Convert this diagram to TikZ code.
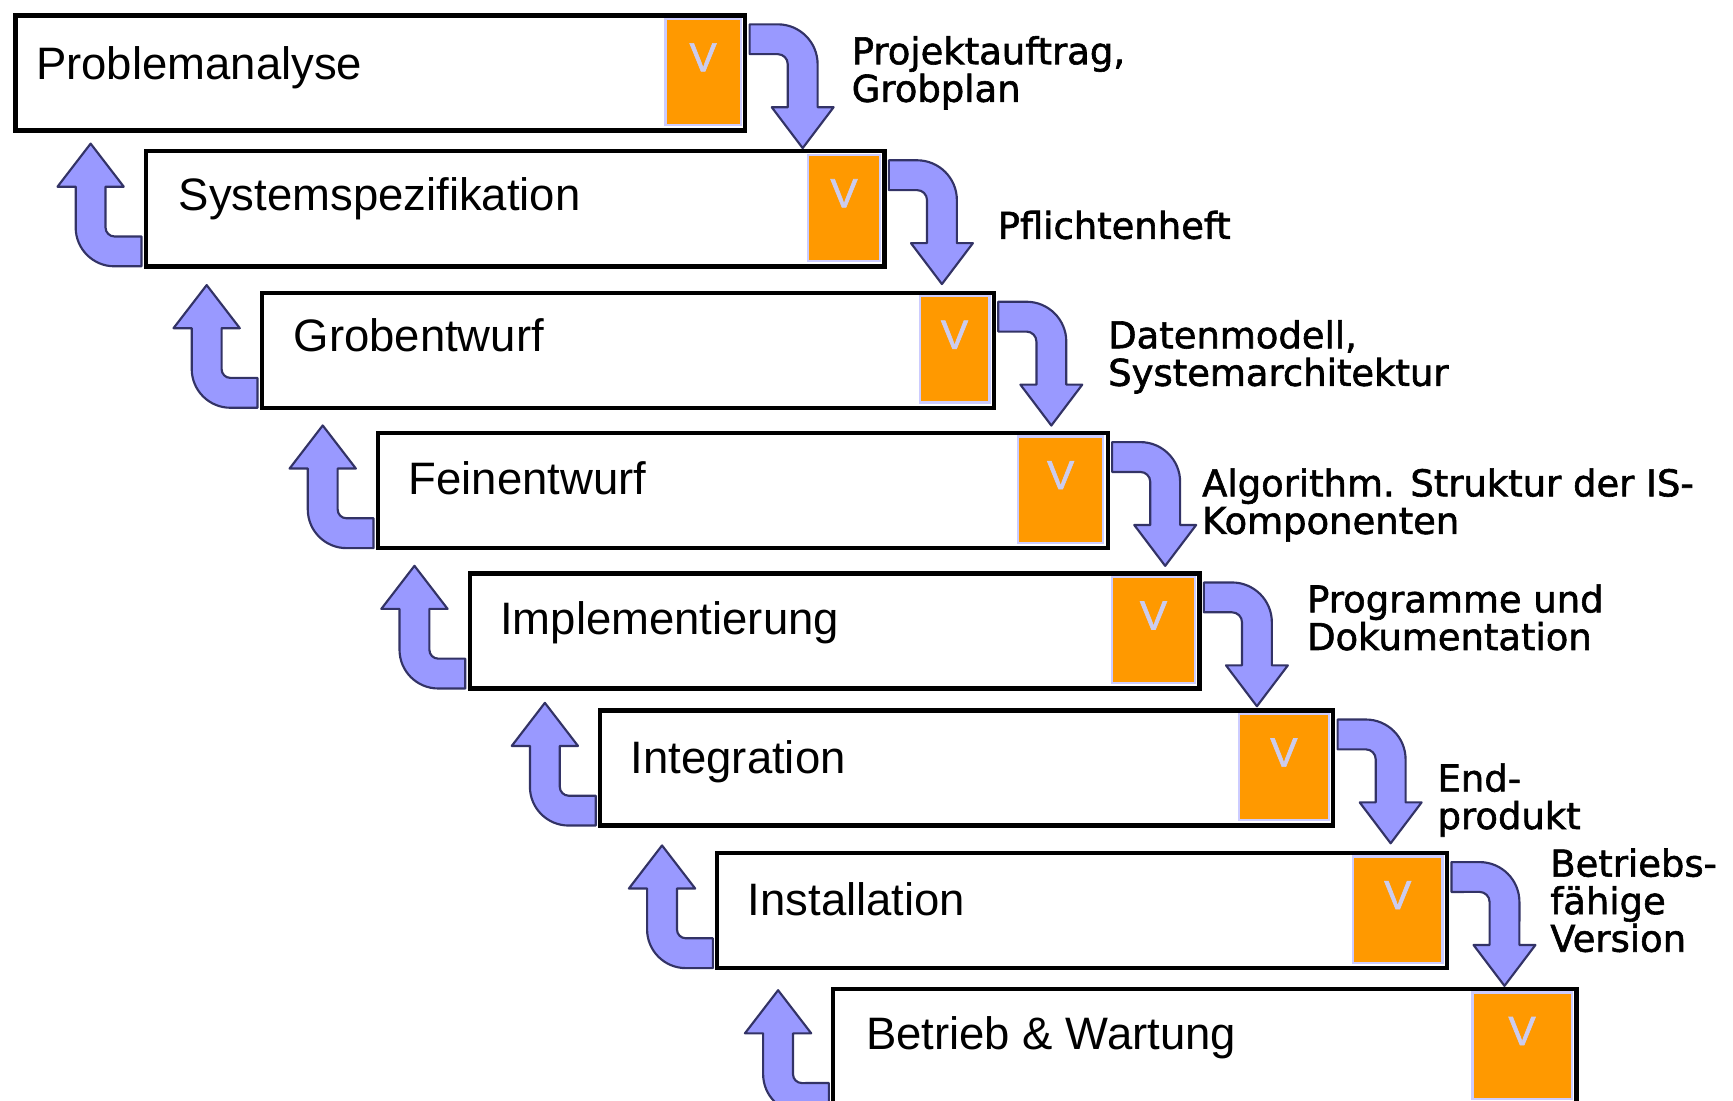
\documentclass[tikz,border=0pt]{standalone}
\usepackage{fontspec}
\setmainfont{Liberation Sans}
\newfontfamily\notefont[FakeBold=1.6]{DejaVu Sans}
\newfontfamily\vfont[FakeBold=1.5]{Liberation Sans}
\usetikzlibrary{calc}
\definecolor{vorange}{HTML}{FF9900}
\definecolor{vrim}{HTML}{CCCCFF}
\definecolor{vletter}{HTML}{CCCCEE}
\definecolor{arrfill}{HTML}{9999FF}
\definecolor{arrline}{HTML}{333366}
\begin{document}
\begin{tikzpicture}[x=0.01cm,y=0.01cm,
	phase/.style={draw=black,line width=1.1pt,fill=white,anchor=north west,minimum height=1.04cm,inner sep=0},
	phaselbl/.style={anchor=base west,inner sep=0,font=\fontsize{11.7}{14}\selectfont},
	check/.style={anchor=north east,fill=vorange,draw=vrim,line width=0.6pt,minimum height=0.96cm,inner sep=0,text=vletter,font=\vfont\fontsize{10.5}{12}\selectfont,text height=0.29cm,text depth=0.30cm},
	note/.style={anchor=north west,inner sep=0,align=left,font=\notefont\fontsize{9.5}{9.67}\selectfont},
	blockarr/.style={fill=arrfill,draw=arrline,line width=0.55pt,line join=round},
	fallarr/.pic={\draw[blockarr] (2,-10) -- (27.5,-10) arc[start angle=90,end angle=0,radius=0.36cm] -- (63.5,-85) -- (78,-85) -- (50,-122) -- (22,-85) -- (36.5,-85) -- (36.5,-46) arc[start angle=0,end angle=90,radius=0.09cm] -- (2,-37) -- cycle;},
	risearr/.pic={\draw[blockarr] (-2,2) -- (-26.5,2) arc[start angle=270,end angle=180,radius=0.35cm] -- (-61.5,74) -- (-78,74) -- (-48,113) -- (-18,74) -- (-34.5,74) -- (-34.5,37) arc[start angle=180,end angle=270,radius=0.08cm] -- (-2,29) -- cycle;}]
	\useasboundingbox (0,0) rectangle (1568,-996);
	
	\node[phase,minimum width=6.60cm] (b1) at (12,-12) {};
	\node[phase,minimum width=6.68cm] (b2) at (130,-135) {};
	\node[phase,minimum width=6.62cm] (b3) at (235,-263) {};
	\node[phase,minimum width=6.60cm] (b4) at (340,-390) {};
	\node[phase,minimum width=6.60cm] (b5) at (423,-517) {};
	\node[phase,minimum width=6.63cm] (b6) at (541,-641) {};
	\node[phase,minimum width=6.60cm] (b7) at (647,-770) {};
	\node[phase,minimum width=6.72cm,minimum height=1.12cm] (b8) at (752,-893) {};
	
	\node[check,minimum width=0.68cm] (v1) at ($(b1.north east)+(-5,-4)$) {V};
	\node[check,minimum width=0.65cm] (v2) at ($(b2.north east)+(-5,-4)$) {V};
	\node[check,minimum width=0.63cm] (v3) at ($(b3.north east)+(-5,-4)$) {V};
	\node[check,minimum width=0.77cm] (v4) at ($(b4.north east)+(-5,-4)$) {V};
	\node[check,minimum width=0.75cm] (v5) at ($(b5.north east)+(-5,-4)$) {V};
	\node[check,minimum width=0.81cm] (v6) at ($(b6.north east)+(-5,-4)$) {V};
	\node[check,minimum width=0.81cm] (v7) at ($(b7.north east)+(-5,-4)$) {V};
	\node[check,minimum width=0.90cm] (v8) at ($(b8.north east)+(-5,-4)$) {V};
	
	\node[phaselbl] (t1) at (32,-72) {Problemanalyse};
	\node[phaselbl] (t2) at (161,-190) {Systemspezifikation};
	\node[phaselbl] (t3) at (265,-318) {Grobentwurf};
	\node[phaselbl] (t4) at (369,-447) {Feinentwurf};
	\node[phaselbl] (t5) at (452,-574) {Implementierung};
	\node[phaselbl] (t6) at (570,-700) {Integration};
	\node[phaselbl] (t7) at (676,-828) {Installation};
	\node[phaselbl] (t8) at (783,-950) {Betrieb \& Wartung};
	
	\pic at (b1.north east) {fallarr};
	\pic at (b2.north east) {fallarr};
	\pic at (b3.north east) {fallarr};
	\pic at (b4.north east) {fallarr};
	\pic at (b5.north east) {fallarr};
	\pic at (b6.north east) {fallarr};
	\pic at (b7.north east) {fallarr};
	
	\pic at (b2.south west) {risearr};
	\pic at (b3.south west) {risearr};
	\pic at (b4.south west) {risearr};
	\pic at (b5.south west) {risearr};
	\pic at (b6.south west) {risearr};
	\pic at (b7.south west) {risearr};
	\pic at (b8.south west) {risearr};
	
	\node[note] (n1) at (770,-32) {Projektauftrag,\\Grobplan};
	\node[note] (n2) at (902,-190) {Pflichtenheft};
	\node[note] (n3) at (1002,-289) {Datenmodell,\\Systemarchitektur};
	\node[note] (n4) at (1087,-423) {Algorithm. Struktur der IS-\\Komponenten};
	\node[note] (n5) at (1182,-528) {Programme und\\Dokumentation};
	\node[note] (n6) at (1300,-690) {End-\\produkt};
	\node[note] (n7) at (1402,-767) {Betriebs-\\fähige\\Version};
\end{tikzpicture}
\end{document}
